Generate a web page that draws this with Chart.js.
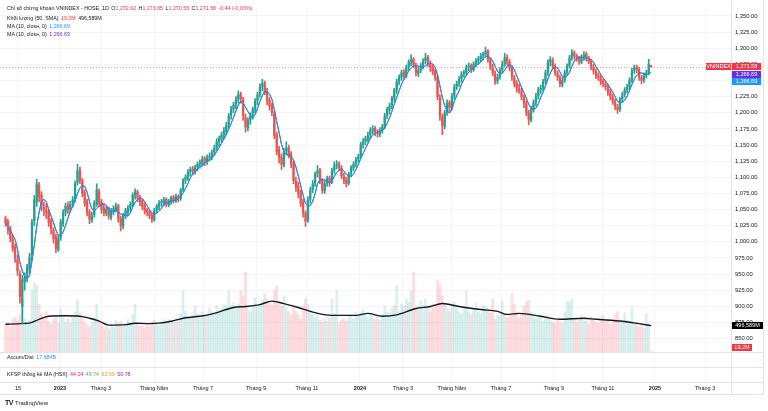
<!DOCTYPE html>
<html lang="vi">
<head>
<meta charset="utf-8">
<title>VNINDEX 1D</title>
<script src="https://cdn.jsdelivr.net/npm/chart.js@4.4.1/dist/chart.umd.min.js"></script>
<style>
  html, body { margin: 0; padding: 0; background: #fff; }
  #wrap { position: relative; width: 768px; height: 411px; overflow: hidden;
          font-family: "Liberation Sans", Arial, sans-serif; color: #131722; }
  #chart { position: absolute; left: 0; top: 0; }
  .lg { position: absolute; left: 7px; font-size: 5.3px; line-height: 8px; white-space: nowrap; }
  .lg b { font-weight: normal; margin-left: 1px; }
  .r { color: #f23645; }
  .bl { color: #2196f3; }
  .pu { color: #673ab7; }
  .gr { color: #4caf50; }
  .or { color: #ff9800; }
  .vi { color: #9c27b0; }
  .pk { color: #e91e63; }
  #logo { position: absolute; left: 5px; top: 399px; font-size: 6px; line-height: 8px; white-space: nowrap; }
  #logo span { font-weight: bold; font-size: 7px; margin-right: 2px; letter-spacing: -0.5px; }
</style>
</head>
<body>
<div id="wrap">
  <canvas id="chart" width="768" height="395"></canvas>
  <div class="lg" style="top:4px">Chỉ số chứng khoán VNINDEX - HOSE, 1D <b>O<span class="r">1,272.02</span></b> <b>H<span class="r">1,273.65</span></b> <b>L<span class="r">1,270.55</span></b> <b>C<span class="r">1,271.58</span></b> <b class="r">-0.44 (-0,03%)</b></div>
  <div class="lg" style="top:14px">Khối lượng (50, SMA) <b class="r">19,2M</b> <b>496,589M</b></div>
  <div class="lg" style="top:22px">MA (10, close, 0) <b class="bl">1,266.69</b></div>
  <div class="lg" style="top:30px">MA (10, close, 0) <b class="pu">1,266.69</b></div>
  <div class="lg" style="top:353px">Accum/Dist <b class="bl">17,684B</b></div>
  <div class="lg" style="top:369.5px">KFSP thống kê MA (HSX) <b class="pk">44.04</b> <b class="gr">49.74</b> <b class="or">62.69</b> <b class="vi">50.78</b></div>
  <div id="logo"><span>TV</span>TradingView</div>
</div>
<script>
"use strict";

// each bar = 2 phiên giao dịch, tu 11/2022 den 31/12/2024
const opens = [1036,1031,1020,1004,992,973,950,900,938,944,
958,978,1032,1062,1088,1072,1053,1048,1046,1032,
1018,1008,988,1006,1028,1046,1056,1050,1060,1066,
1092,1112,1094,1076,1062,1046,1034,1042,1058,1078,
1062,1052,1044,1052,1038,1047,1050,1056,1036,1024,
1041,1046,1053,1058,1073,1077,1069,1063,1056,1049,
1046,1041,1034,1049,1054,1061,1060,1066,1057,1062,
1069,1064,1071,1067,1081,1096,1099,1109,1113,1109,
1116,1121,1121,1129,1124,1131,1131,1139,1146,1156,
1159,1166,1171,1182,1196,1206,1213,1221,1229,1220,
1193,1177,1189,1196,1206,1219,1229,1241,1246,1233,
1219,1211,1198,1166,1142,1131,1119,1141,1146,1136,
1121,1094,1086,1076,1061,1044,1033,1066,1081,1091,
1106,1111,1094,1079,1091,1099,1093,1111,1119,1121,
1114,1101,1096,1091,1106,1114,1121,1129,1133,1151,
1156,1159,1166,1173,1176,1169,1167,1173,1179,1196,
1204,1211,1223,1236,1249,1256,1263,1257,1271,1279,
1283,1274,1261,1266,1273,1281,1286,1277,1271,1264,
1254,1224,1194,1179,1201,1216,1207,1226,1241,1246,
1253,1261,1263,1271,1273,1267,1276,1281,1284,1289,
1291,1296,1281,1271,1261,1249,1256,1266,1276,1286,
1279,1269,1254,1246,1237,1234,1224,1214,1199,1189,
1206,1216,1226,1236,1239,1249,1263,1279,1281,1271,
1261,1254,1244,1251,1263,1273,1286,1293,1287,1284,
1279,1286,1291,1284,1279,1271,1264,1257,1254,1249,
1244,1239,1231,1224,1217,1209,1206,1221,1229,1236,
1241,1251,1266,1271,1267,1254,1251,1259,1263,1272.02];

const highs = [1040,1035,1024,1010,996,980,955,948,952,965,
982,1035,1072,1097,1092,1078,1062,1058,1050,1036,
1022,1012,1010,1035,1050,1060,1062,1063,1070,1094,
1120,1116,1098,1080,1066,1050,1046,1064,1090,1082,
1066,1058,1055,1054,1052,1056,1060,1058,1040,1044,
1052,1056,1062,1076,1082,1080,1072,1066,1060,1052,
1050,1044,1052,1058,1064,1066,1069,1068,1066,1071,
1072,1074,1073,1083,1098,1104,1112,1116,1117,1119,
1124,1127,1133,1132,1135,1138,1142,1150,1160,1164,
1170,1177,1185,1199,1210,1216,1225,1234,1232,1224,
1198,1192,1200,1209,1222,1232,1245,1252,1249,1238,
1224,1215,1203,1170,1148,1136,1145,1155,1150,1140,
1125,1100,1092,1080,1066,1048,1070,1085,1095,1108,
1118,1114,1098,1094,1102,1102,1114,1124,1126,1124,
1118,1106,1100,1108,1118,1124,1131,1136,1154,1160,
1164,1170,1177,1180,1179,1174,1177,1182,1199,1209,
1215,1226,1238,1252,1259,1266,1267,1274,1282,1290,
1286,1277,1270,1277,1284,1292,1289,1280,1274,1268,
1258,1228,1198,1204,1220,1219,1230,1244,1249,1256,
1264,1266,1274,1277,1276,1279,1284,1287,1292,1294,
1302,1298,1285,1275,1265,1260,1270,1280,1292,1290,
1283,1273,1258,1250,1244,1238,1228,1218,1204,1210,
1220,1230,1240,1243,1252,1266,1282,1287,1285,1276,
1265,1258,1255,1266,1276,1289,1298,1296,1291,1288,
1290,1295,1294,1288,1283,1275,1268,1262,1258,1252,
1248,1244,1236,1229,1221,1213,1224,1232,1239,1244,
1254,1269,1274,1274,1270,1258,1262,1266,1283,1273.65];

const lows = [1024,1012,1000,985,968,948,905,873,925,938,
952,972,1025,1055,1062,1048,1040,1036,1024,1012,
998,983,985,1002,1024,1040,1044,1046,1054,1062,
1088,1090,1070,1055,1040,1028,1030,1038,1055,1055,
1044,1040,1040,1035,1034,1042,1046,1030,1017,1020,
1036,1042,1048,1055,1066,1062,1056,1050,1043,1040,
1036,1030,1032,1045,1050,1055,1056,1054,1054,1058,
1060,1061,1062,1064,1078,1090,1095,1102,1104,1105,
1110,1114,1117,1118,1120,1125,1127,1134,1142,1148,
1154,1160,1166,1177,1190,1200,1206,1215,1215,1188,
1170,1172,1182,1190,1200,1212,1224,1234,1228,1212,
1204,1195,1160,1135,1122,1112,1116,1136,1130,1115,
1090,1078,1068,1055,1038,1024,1030,1060,1076,1086,
1100,1090,1075,1075,1086,1086,1090,1106,1113,1110,
1098,1090,1085,1088,1101,1110,1116,1124,1130,1145,
1150,1155,1160,1167,1164,1162,1163,1168,1175,1191,
1198,1206,1218,1230,1243,1250,1252,1254,1266,1273,
1270,1257,1256,1262,1268,1276,1272,1264,1259,1250,
1220,1188,1166,1175,1196,1202,1204,1222,1236,1241,
1248,1255,1258,1265,1262,1264,1271,1275,1279,1282,
1286,1278,1267,1257,1244,1245,1252,1262,1272,1274,
1265,1250,1240,1232,1230,1220,1208,1195,1181,1186,
1201,1211,1221,1230,1234,1245,1258,1273,1268,1258,
1250,1240,1240,1247,1258,1269,1281,1283,1280,1275,
1276,1281,1280,1276,1267,1260,1253,1250,1243,1240,
1235,1227,1220,1213,1205,1199,1202,1216,1224,1231,
1236,1247,1261,1262,1250,1245,1247,1254,1259,1270.55];

const closes = [1030,1018,1005,990,975,955,915,941,945,960,
975,1030,1065,1090,1070,1055,1050,1045,1030,1020,
1005,990,1005,1030,1045,1055,1050,1058,1065,1090,
1110,1095,1075,1060,1045,1035,1040,1060,1080,1060,
1050,1045,1050,1040,1048,1052,1055,1035,1025,1040,
1048,1052,1058,1072,1078,1068,1062,1055,1048,1045,
1040,1035,1048,1055,1060,1062,1065,1058,1063,1068,
1065,1070,1068,1080,1095,1100,1108,1112,1110,1115,
1120,1122,1128,1125,1130,1132,1138,1145,1155,1160,
1165,1172,1180,1195,1205,1212,1220,1228,1222,1195,
1178,1188,1195,1205,1218,1228,1240,1245,1232,1218,
1210,1200,1165,1140,1130,1120,1140,1145,1135,1120,
1095,1085,1075,1060,1045,1032,1065,1080,1090,1105,
1110,1095,1080,1090,1098,1092,1110,1118,1120,1115,
1102,1095,1090,1105,1115,1120,1128,1132,1150,1155,
1160,1165,1172,1175,1170,1168,1172,1178,1195,1205,
1210,1222,1235,1248,1255,1262,1258,1270,1278,1282,
1275,1262,1265,1272,1280,1285,1278,1270,1265,1255,
1225,1195,1180,1200,1215,1208,1225,1240,1245,1252,
1260,1262,1270,1272,1268,1275,1280,1283,1288,1290,
1295,1282,1272,1262,1250,1255,1265,1275,1285,1280,
1270,1255,1245,1238,1235,1225,1215,1200,1190,1205,
1215,1225,1235,1238,1248,1262,1278,1282,1272,1262,
1255,1245,1250,1262,1272,1285,1292,1288,1285,1280,
1285,1290,1285,1280,1272,1265,1258,1255,1248,1245,
1240,1232,1225,1218,1210,1205,1220,1228,1235,1240,
1250,1265,1270,1268,1255,1250,1258,1262,1275,1271.58];

// khoi luong (trieu cp / phien)
const volumes = [520,560,470,610,650,580,720,980,640,560,
600,1150,1300,1250,900,720,640,760,580,520,
610,680,540,820,700,560,620,540,680,760,
980,740,620,560,520,470,560,640,900,610,
520,460,480,430,520,470,600,540,580,490,
520,610,560,700,900,560,490,520,460,540,
480,560,600,520,500,560,610,540,620,580,
560,640,600,720,1150,760,680,640,700,860,
720,640,760,680,720,820,760,700,880,760,
820,900,860,1150,880,920,860,900,1150,1040,
1500,820,760,880,1020,860,900,980,1100,1000,
920,880,1150,1240,960,860,1040,820,760,700,
840,760,700,620,880,1000,900,780,700,640,
680,600,560,620,580,640,1000,720,1150,560,
600,640,580,660,700,620,760,680,740,800,
700,640,720,680,620,660,600,700,860,760,
740,820,880,1250,760,900,860,1000,940,1150,
1500,820,860,960,880,1000,820,760,900,880,
1350,1260,1060,900,820,760,880,940,820,760,
720,840,1150,760,700,820,920,760,720,880,
860,820,740,1000,620,700,680,960,720,640,
680,1100,900,760,640,700,860,940,980,760,
680,620,700,660,580,620,700,640,560,540,
600,560,540,760,960,950,1000,620,560,600,
700,640,580,520,660,620,560,540,600,680,
580,620,520,560,700,760,620,560,740,600,
580,820,520,560,480,520,460,720,540,19.2];

// SMA 50 cua khoi luong, doc tu hinh
const volSmaX = [0,10,14,18,25,31,35,39,43,50,54,60,64,69,75,81,87,95,100,106,111,116,122,127,136,146,151,157,163,171,177,182,189,198,205,209,214,223,231,241,246,257,264,269];
const volSmaY = [524,543,616,672,681,672,635,580,506,515,543,534,543,580,644,672,727,837,856,892,957,911,837,764,690,690,727,672,699,819,856,911,856,800,764,708,727,672,616,635,616,580,534,497];

const tickPos = [5.2,22.7,39.8,61.9,82.3,104.4,125.6,147.7,165.6,186,206.5,228.5,248.9,270.6,291.5];
const tickLabels = ['15','2023','Tháng 3','Tháng Năm','Tháng 7','Tháng 9','Tháng 11','2024','Tháng 3','Tháng Năm','Tháng 7','Tháng 9','Tháng 11','2025','Tháng 3'];

const UP = '#22a293', DOWN = '#ef5350';
const FONT = '"Liberation Sans", Arial, sans-serif';

function sma(arr, n) {
    return arr.map((v, i) => {
        const part = arr.slice(Math.max(0, i - n + 1), i + 1);
        return part.reduce((a, b) => a + b, 0) / part.length;
    });
}

const isUp = opens.map((o, i) => closes[i] >= o);
const ma10 = sma(closes, 5);

function fmt(v) {
    return v.toLocaleString('en-US', { minimumFractionDigits: 2, maximumFractionDigits: 2 });
}

function tag(ctx, text, x, yc, w, bg, fg) {
    const top = Math.round(yc - 3.5);
    ctx.fillStyle = bg;
    ctx.fillRect(x, top, w, 7);
    ctx.fillStyle = fg;
    ctx.font = '5.5px ' + FONT;
    ctx.textAlign = 'center';
    ctx.textBaseline = 'middle';
    ctx.fillText(text, x + w / 2, top + 3.8);
}

const tvPanes = {
    id: 'tvPanes',
    beforeDatasetsDraw(chart) {
        const { ctx, chartArea, scales } = chart;
        const y = Math.round(scales.y.getPixelForValue(closes[closes.length - 1])) + 0.5;
        ctx.save();
        ctx.strokeStyle = 'rgba(242,54,69,0.5)';
        ctx.setLineDash([1, 2]);
        ctx.lineWidth = 1;
        ctx.beginPath();
        ctx.moveTo(chartArea.left, y);
        ctx.lineTo(chartArea.right, y);
        ctx.stroke();
        ctx.restore();
    },
    afterDraw(chart) {
        const { ctx, chartArea, scales } = chart;
        const R = chartArea.right;
        ctx.save();
        ctx.strokeStyle = '#e0e3eb';
        ctx.lineWidth = 1;
        ctx.beginPath();
        [352.5, 367.5, 382.5, 394.5].forEach(y => { ctx.moveTo(0, y); ctx.lineTo(763.5, y); });
        [R + 0.5, 763.5].forEach(x => { ctx.moveTo(x, 0); ctx.lineTo(x, 394.5); });
        ctx.stroke();

        const last = closes[closes.length - 1];
        const yc = scales.y.getPixelForValue(last);
        tag(ctx, 'VNINDEX', R - 25, yc, 25, '#f23645', '#fff');
        tag(ctx, fmt(last), R + 1, yc, 29, '#f23645', '#fff');
        tag(ctx, '1,266.69', R + 1, yc + 7.5, 29, '#6a2ee8', '#fff');
        tag(ctx, '1,266.69', R + 1, yc + 15, 29, '#2196f3', '#fff');

        const vs = volSmaY[volSmaY.length - 1];
        tag(ctx, '496,589M', R + 1, scales.yVol.getPixelForValue(vs), 31, '#000', '#fff');
        const vl = volumes[volumes.length - 1];
        tag(ctx, '19,2M', R + 1, Math.min(scales.yVol.getPixelForValue(vl), 347), 20, '#f23645', '#fff');
        ctx.restore();
    }
};

const ctx = document.getElementById('chart').getContext('2d');

new Chart(ctx, {
    type: 'bar',
    data: {
        datasets: [
            {
                label: 'Khối lượng',
                yAxisID: 'yVol',
                data: volumes.map((v, i) => ({ x: i, y: v })),
                backgroundColor: isUp.map(u => u ? 'rgba(38,166,154,0.17)' : 'rgba(242,54,69,0.17)'),
                barThickness: 2,
                grouped: false,
                order: 6
            },
            {
                type: 'line',
                label: 'Vol SMA 50',
                yAxisID: 'yVol',
                data: volSmaX.map((x, i) => ({ x: x, y: volSmaY[i] })),
                borderColor: '#131722',
                borderWidth: 1.4,
                pointRadius: 0,
                cubicInterpolationMode: 'monotone',
                order: 5
            },
            {
                label: 'wick',
                data: lows.map((l, i) => ({ x: i, y: [l, highs[i]] })),
                backgroundColor: isUp.map(u => u ? UP : DOWN),
                barThickness: 1,
                grouped: false,
                order: 4
            },
            {
                label: 'body',
                data: opens.map((o, i) => ({ x: i, y: [o, closes[i]] })),
                backgroundColor: isUp.map(u => u ? UP : DOWN),
                barThickness: 1.6,
                minBarLength: 1,
                grouped: false,
                order: 3
            },
            {
                type: 'line',
                label: 'MA 10 (2)',
                data: ma10.map((v, i) => ({ x: i, y: v })),
                borderColor: '#673ab7',
                borderWidth: 1,
                pointRadius: 0,
                order: 2
            },
            {
                type: 'line',
                label: 'MA 10',
                data: ma10.map((v, i) => ({ x: i, y: v })),
                borderColor: '#2196f3',
                borderWidth: 1,
                pointRadius: 0,
                order: 1
            }
        ]
    },
    options: {
        responsive: false,
        animation: false,
        devicePixelRatio: 1,
        layout: { padding: { left: 0, right: 5, top: 0, bottom: 0 } },
        plugins: { legend: { display: false }, tooltip: { enabled: false } },
        scales: {
            x: {
                type: 'linear',
                min: -2.2917,
                max: 302.29,
                offset: false,
                afterBuildTicks: s => { s.ticks = tickPos.map(v => ({ value: v })); },
                afterFit: s => { s.height = 13; },
                grid: { color: '#f2f4f8', drawTicks: false, offset: false },
                border: { display: false },
                ticks: {
                    autoSkip: false,
                    maxRotation: 0,
                    padding: 3,
                    color: '#131722',
                    font: c => ({ family: FONT, size: 5.5, weight: /^\d{4}$/.test(tickLabels[c.index]) ? 'bold' : 'normal' }),
                    callback: (v, i) => tickLabels[i]
                }
            },
            y: {
                position: 'right',
                min: 782.7,
                max: 1363.2,
                afterFit: s => { s.width = 32; },
                grid: {
                    drawTicks: false,
                    color: c => (c.tick && c.tick.value >= 845 && c.tick.value % 25 === 0) ? '#f2f4f8' : 'rgba(0,0,0,0)'
                },
                border: { display: false },
                ticks: {
                    stepSize: 25,
                    includeBounds: false,
                    autoSkip: false,
                    padding: 4,
                    color: '#131722',
                    font: { family: FONT, size: 5.8 },
                    callback: v => (v < 845 || v % 25 !== 0) ? '' : fmt(v)
                }
            },
            yVol: {
                display: false,
                min: -561,
                max: 6468
            }
        }
    },
    plugins: [tvPanes]
});
</script>
</body>
</html>
